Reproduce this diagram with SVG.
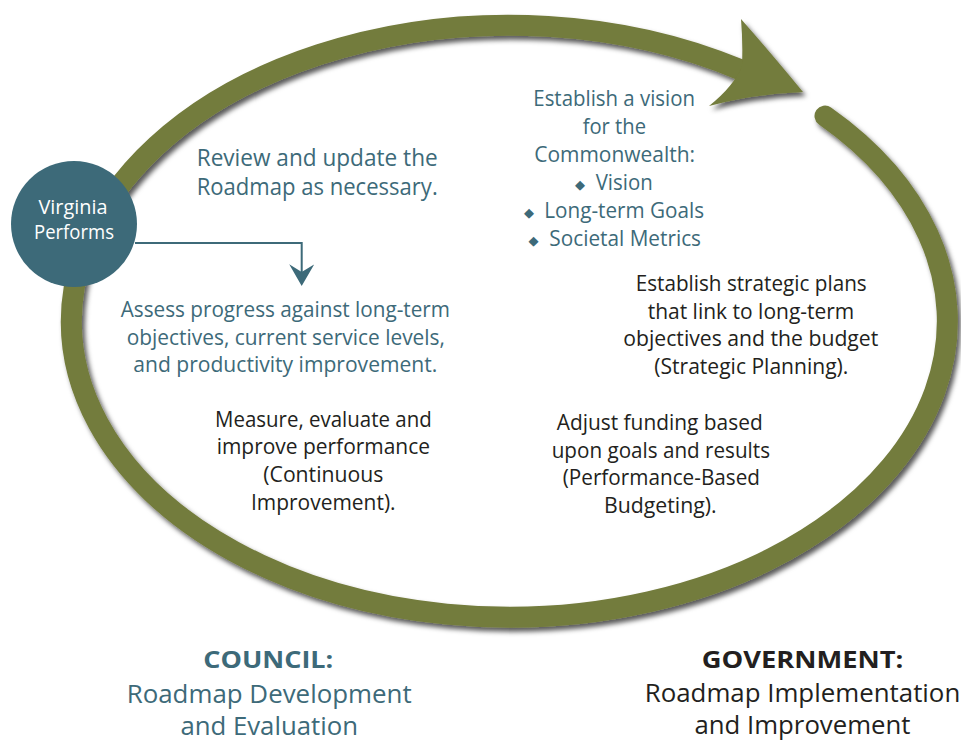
<svg xmlns="http://www.w3.org/2000/svg" width="961" height="740" viewBox="0 0 961 740">
  <defs>
    <filter id="soft-shadow" x="-10%" y="-10%" width="120%" height="125%">
      <feDropShadow dx="3" dy="4" stdDeviation="2.5" flood-color="#000" flood-opacity="0.65"/>
    </filter>
    <marker id="arrow-down" viewBox="0 -12.5 21.7 25" refX="7.7" refY="0" markerWidth="21.7" markerHeight="25" markerUnits="userSpaceOnUse" orient="auto">
      <path d="M0,-12.5 L21.7,0 L0,12.5 L7.7,0 Z" fill="#3d6a79"/>
    </marker>
  </defs>
  <style>
    .ring { fill: none; stroke: #737b3c; stroke-width: 21; stroke-linecap: round; }
    .head { fill: #737b3c; }
    .node { fill: #3d6a79; }
    .link { fill: none; stroke: #3d6a79; stroke-width: 2; }
    text { font-family: "Open Sans", "Liberation Sans", sans-serif; text-anchor: start; }
    .teal { fill: #3d6a79; font-size: 22px; }
    .dark { fill: #231f20; font-size: 22px; }
    .big { font-size: 23px; }
    .node-label { fill: #ffffff; font-size: 20px; }
    .head-label { font-size: 23px; font-weight: bold; }
    .sub-label { font-size: 25px; }
    .bullet { fill: #3d6a79; font-family: "DejaVu Sans", sans-serif; font-size: 13px; }
  </style>

  <rect width="961" height="740" fill="#ffffff"/>

  <!-- the cycle: one open ellipse stroke ending in a large arrowhead -->
  <g id="cycle" filter="url(#soft-shadow)">
    <path class="ring" d="M825,116 A438,296 0 1 1 741,70"/>
    <path class="head" d="M741,19 Q770,52 803,92 Q754,94 709,106 Q734,86 742,66 Q743,42 741,19 Z"/>
  </g>

  <g id="connectors">
    <path class="link" d="M135,243 H301.7 V272" marker-end="url(#arrow-down)"/>
  </g>

  <g id="virginia-performs">
    <circle class="node" cx="74" cy="224" r="63"/>
    <text class="node-label" x="38.5" y="214" textLength="69" lengthAdjust="spacingAndGlyphs">Virginia</text>
    <text class="node-label" x="34" y="239" textLength="80" lengthAdjust="spacingAndGlyphs">Performs</text>
  </g>

  <g id="review-roadmap">
    <text class="teal big" x="196.7" y="166" textLength="241" lengthAdjust="spacingAndGlyphs">Review and update the</text>
    <text class="teal big" x="196.7" y="195" textLength="241" lengthAdjust="spacingAndGlyphs">Roadmap as necessary.</text>
  </g>

  <g id="establish-vision">
    <text class="teal" x="533.3" y="106" textLength="161.7" lengthAdjust="spacingAndGlyphs">Establish a vision</text>
    <text class="teal" x="582.7" y="134" textLength="63.3" lengthAdjust="spacingAndGlyphs">for the</text>
    <text class="teal" x="534.3" y="162" textLength="160.7" lengthAdjust="spacingAndGlyphs">Commonwealth:</text>
    <text class="bullet" x="575" y="189">◆</text>
    <text class="teal" x="595.7" y="190" textLength="57" lengthAdjust="spacingAndGlyphs">Vision</text>
    <text class="bullet" x="524" y="216.5">◆</text>
    <text class="teal" x="544.3" y="217.5" textLength="159.7" lengthAdjust="spacingAndGlyphs">Long-term Goals</text>
    <text class="bullet" x="528.5" y="244.5">◆</text>
    <text class="teal" x="549.3" y="245.5" textLength="151.7" lengthAdjust="spacingAndGlyphs">Societal Metrics</text>
  </g>

  <g id="assess-progress">
    <text class="teal" x="120.7" y="316.7" textLength="329.3" lengthAdjust="spacingAndGlyphs">Assess progress against long-term</text>
    <text class="teal" x="126.7" y="344.5" textLength="318.3" lengthAdjust="spacingAndGlyphs">objectives, current service levels,</text>
    <text class="teal" x="133.3" y="372" textLength="304" lengthAdjust="spacingAndGlyphs">and productivity improvement.</text>
  </g>

  <g id="continuous-improvement">
    <text class="dark" x="215" y="426.7" textLength="216.7" lengthAdjust="spacingAndGlyphs">Measure, evaluate and</text>
    <text class="dark" x="216.7" y="454" textLength="213.3" lengthAdjust="spacingAndGlyphs">improve performance</text>
    <text class="dark" x="263.3" y="482" textLength="120" lengthAdjust="spacingAndGlyphs">(Continuous</text>
    <text class="dark" x="251" y="510" textLength="144.6" lengthAdjust="spacingAndGlyphs">Improvement).</text>
  </g>

  <g id="strategic-planning">
    <text class="dark" x="635.7" y="291" textLength="231" lengthAdjust="spacingAndGlyphs">Establish strategic plans</text>
    <text class="dark" x="647.7" y="318.5" textLength="206.6" lengthAdjust="spacingAndGlyphs">that link to long-term</text>
    <text class="dark" x="623.3" y="346" textLength="255" lengthAdjust="spacingAndGlyphs">objectives and the budget</text>
    <text class="dark" x="654.3" y="373.5" textLength="194" lengthAdjust="spacingAndGlyphs">(Strategic Planning).</text>
  </g>

  <g id="performance-budgeting">
    <text class="dark" x="556.7" y="430" textLength="206" lengthAdjust="spacingAndGlyphs">Adjust funding based</text>
    <text class="dark" x="551.7" y="457.5" textLength="218.3" lengthAdjust="spacingAndGlyphs">upon goals and results</text>
    <text class="dark" x="562.7" y="485" textLength="197.3" lengthAdjust="spacingAndGlyphs">(Performance-Based</text>
    <text class="dark" x="604" y="512.5" textLength="112.7" lengthAdjust="spacingAndGlyphs">Budgeting).</text>
  </g>

  <g id="council">
    <text class="head-label" fill="#3d6a79" x="203.3" y="667.7" textLength="130" lengthAdjust="spacingAndGlyphs">COUNCIL:</text>
    <text class="sub-label" fill="#3d6a79" x="126.7" y="703" textLength="285" lengthAdjust="spacingAndGlyphs">Roadmap Development</text>
    <text class="sub-label" fill="#3d6a79" x="180.4" y="734.5" textLength="177.6" lengthAdjust="spacingAndGlyphs">and Evaluation</text>
  </g>

  <g id="government">
    <text class="head-label" fill="#231f20" x="701.7" y="667.7" textLength="201.6" lengthAdjust="spacingAndGlyphs">GOVERNMENT:</text>
    <text class="sub-label" fill="#231f20" x="644.7" y="702" textLength="315.6" lengthAdjust="spacingAndGlyphs">Roadmap Implementation</text>
    <text class="sub-label" fill="#231f20" x="694.5" y="734" textLength="216" lengthAdjust="spacingAndGlyphs">and Improvement</text>
  </g>
</svg>
